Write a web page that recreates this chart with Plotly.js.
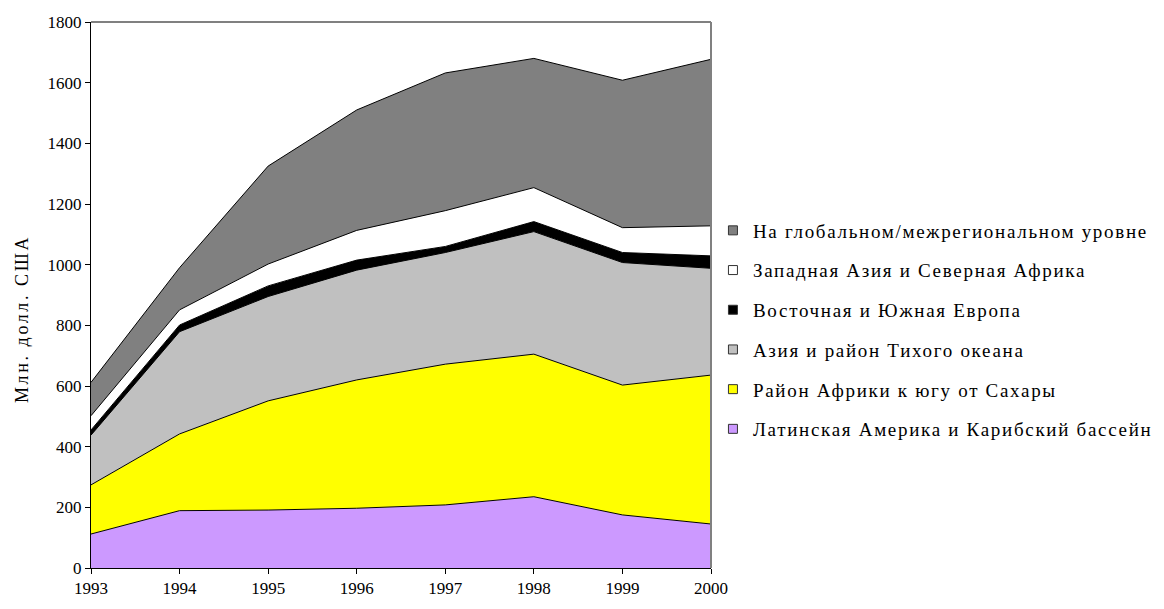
<!DOCTYPE html>
<html><head><meta charset="utf-8">
<script src="https://cdn.plot.ly/plotly-3.0.1.min.js"></script>
<style>body{margin:0;background:#fff}#c{width:1164px;height:609px}
.legendtext{letter-spacing:1.7px}
.annotation-text{letter-spacing:2.6px}
</style>
</head><body><div id="c"></div>
<script>
const years = [1993,1994,1995,1996,1997,1998,1999,2000];
const seriesNames = [
  "Латинская Америка и Карибский бассейн",
  "Район Африки к югу от Сахары",
  "Азия и район Тихого океана",
  "Восточная и Южная Европа",
  "Западная Азия и Северная Африка",
  "На глобальном/межрегиональном уровне"
];
const yTitle = "Млн. долл. США";
const latinAmerica = [112,189,191,197,208,235,175,145];
const subSaharanAfrica = [162,253,360,423,464,470,428,491];
const asiaPacific = [164,337,344,362,368,404,404,352];
const easternSouthernEurope = [17,22,35,33,20,33,33,41];
const westernAsiaNorthAfrica = [47,50,72,98,118,112,82,99];
const globalInterregional = [110,139,323,397,454,426,486,549];
const colors = ["#CC99FF","#FFFF00","#C0C0C0","#000000","#FFFFFF","#808080"];
const values = [latinAmerica, subSaharanAfrica, asiaPacific, easternSouthernEurope, westernAsiaNorthAfrica, globalInterregional];

const areaTraces = values.map((v,i)=>({
  type:'scatter', mode:'lines', x:years, y:v, name:seriesNames[i],
  stackgroup:'one', fillcolor:colors[i], line:{color:'#000', width:1},
  showlegend:false, hoverinfo:'skip'
}));
const legendTraces = seriesNames.map((n,i)=>({
  type:'scatter', mode:'markers', x:[null], y:[null], name:n,
  marker:{symbol:'square', size:9, color:colors[i], line:{color:'#333', width:1}},
  legendgroup:'g'+i, legendrank:100-i, hoverinfo:'skip'
}));

const font = {family:'Liberation Serif, Times New Roman, serif', color:'#000'};
const layout = {
  width:1164, height:609,
  margin:{l:91, r:453, t:22, b:41},
  paper_bgcolor:'#fff', plot_bgcolor:'#fff',
  font:Object.assign({size:17}, font),
  showlegend:true,
  legend:{xref:'container', yref:'container', x:0.6125, xanchor:'left', y:(609-330)/609, yanchor:'middle',
          traceorder:'grouped', tracegroupgap:12,
          font:Object.assign({size:19}, font), itemwidth:30, bgcolor:'rgba(0,0,0,0)'},
  xaxis:{range:[1993,2000], tickvals:years, ticktext:years.map(String), showgrid:false, zeroline:false,
         showline:true, linecolor:'#000', linewidth:1, ticks:'outside', ticklen:5, tickcolor:'#000',
         tickfont:Object.assign({size:17}, font)},
  yaxis:{range:[0,1800], dtick:200, showgrid:false, zeroline:false, showline:true, linecolor:'#000', linewidth:1,
         ticks:'outside', ticklen:5, tickcolor:'#000', tickfont:Object.assign({size:17}, font)},
  annotations:[{text:yTitle, xref:'paper', yref:'paper', x:(22-91)/620, y:(568-319)/546,
                xanchor:'center', yanchor:'middle', textangle:-90, showarrow:false,
                font:Object.assign({size:18}, font)}],
  shapes:[
    {type:'line', xref:'paper', yref:'paper', x0:0, x1:1, y0:1, y1:1, line:{color:'#808080', width:2}},
    {type:'line', xref:'paper', yref:'paper', x0:1, x1:1, y0:0, y1:1, line:{color:'#808080', width:2}}
  ]
};
Plotly.newPlot('c', areaTraces.concat(legendTraces), layout, {displayModeBar:false, staticPlot:true});
</script></body></html>
